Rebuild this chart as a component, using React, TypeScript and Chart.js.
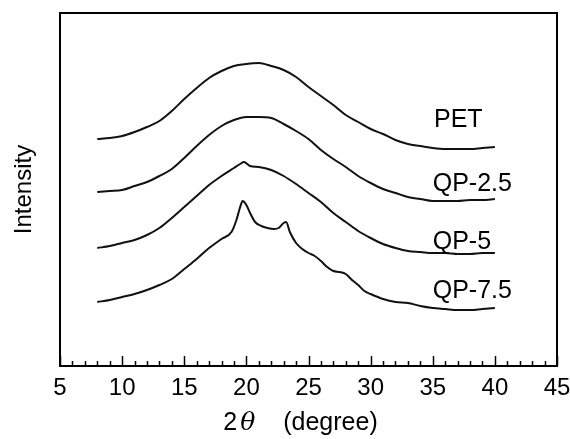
import { useEffect, useRef } from 'react';
import { Chart, registerables } from 'chart.js';

Chart.register(...registerables);

// 2θ grid (degree) shared by the two smooth amorphous patterns
const twoTheta = [8, 9, 10, 11, 12, 13, 14, 15, 16, 17, 18, 19, 20, 21, 22, 23, 24, 25, 26, 27, 28, 29, 30, 31, 32, 33, 34, 35, 36, 37, 38, 39, 40];

// Intensity (a.u., patterns stacked with vertical offsets)
const petIntensity = [227, 228, 230, 234, 239, 245, 255, 267, 278, 288, 295, 300, 302, 303, 300, 296, 289, 279, 270, 261, 251, 244, 237, 232, 226, 222, 220, 218, 217, 217, 217, 218, 219];
const qp25Intensity = [174, 175, 176, 180, 184, 190, 197, 208, 220, 231, 240, 246, 249, 249, 248, 242, 235, 227, 216, 207, 199, 190, 183, 177, 173, 169, 167, 165, 165, 165, 166, 166, 167];

const qp5Theta = [8, 9, 10, 11, 12, 13, 14, 15, 16, 17, 18, 19, 19.5, 19.8, 20.3, 21, 22, 23, 24, 25, 26, 27, 28, 29, 30, 31, 32, 33, 34, 35, 36, 37, 38, 39, 40];
const qp5Intensity = [118, 120, 123, 126, 131, 138, 148, 159, 170, 181, 190, 198, 202, 204, 200, 199, 196, 190, 182, 173, 164, 153, 144, 135, 128, 122, 118, 115, 114, 113, 113, 112, 112, 113, 113];

const qp75Theta = [8, 9, 10, 11, 12, 13, 14, 15, 16, 17, 18, 18.8, 19.2, 19.5, 19.7, 20.0, 20.3, 20.7, 21.2, 21.7, 22.2, 22.6, 23.0, 23.2, 23.5, 24.0, 24.5, 25.0, 25.5, 26.0, 26.5, 27.0, 27.5, 28.0, 28.5, 29.0, 29.5, 30, 31, 32, 33, 34, 35, 36, 37, 38, 39, 40];
const qp75Intensity = [64, 66, 69, 72, 76, 81, 87, 97, 107, 118, 127, 134, 146, 159, 165, 161, 153, 144, 140, 138, 137, 138, 143, 144, 134, 123, 117, 113, 110, 105, 99, 95, 94, 92, 86, 81, 75, 72, 67, 64, 63, 60, 58, 57, 56, 56, 57, 58];

const seriesNames = ['PET', 'QP-2.5', 'QP-5', 'QP-7.5'];
// where each sample name sits, in axis units (2θ, intensity)
const nameAnchors = [
  [35.1, 246],
  [35.0, 182],
  [35.0, 124],
  [35.0, 75],
];

const xTickLabels = ['5', '10', '15', '20', '25', '30', '35', '40', '45'];

const FONT = "'Liberation Sans', Arial, Helvetica, sans-serif";

function pairs(xs: number[], ys: number[]) {
  return xs.map((x, i) => ({ x, y: ys[i] }));
}

const frameAndTicks = {
  id: 'frameAndTicks',
  afterDraw(chart: any) {
    const { ctx, chartArea, scales } = chart;
    const { left, right, top, bottom } = chartArea;
    const xs = scales.x;
    ctx.save();
    ctx.strokeStyle = '#000';
    // inward tick marks along the bottom edge
    ctx.lineWidth = 1.5;
    for (let v = 5; v <= 45; v++) {
      const px = Math.round(xs.getPixelForValue(v)) + 0.5;
      const len = v % 5 === 0 ? 10 : 5;
      ctx.beginPath();
      ctx.moveTo(px, bottom);
      ctx.lineTo(px, bottom - len);
      ctx.stroke();
    }
    // plot frame
    ctx.lineWidth = 2;
    ctx.strokeRect(left, top, right - left, bottom - top);

    // sample names
    ctx.fillStyle = '#000';
    ctx.font = `25px ${FONT}`;
    ctx.textAlign = 'left';
    ctx.textBaseline = 'middle';
    seriesNames.forEach((name, i) => {
      const [ax, ay] = nameAnchors[i];
      ctx.fillText(name, xs.getPixelForValue(ax), scales.y.getPixelForValue(ay));
    });

    // x-axis title: "2θ   (degree)" with an italic theta
    const parts = [
      { text: '2', font: `25px ${FONT}`, after: 3 },
      { text: 'θ', font: `italic 25px 'DejaVu Serif', 'Liberation Serif', serif`, after: 28 },
      { text: '(degree)', font: `25px ${FONT}`, after: 0 },
    ];
    let total = 0;
    const widths = parts.map((p) => {
      ctx.font = p.font;
      const w = ctx.measureText(p.text).width;
      total += w + p.after;
      return w;
    });
    let tx = (left + right) / 2 - 8 - total / 2;
    const ty = 423;
    ctx.textBaseline = 'middle';
    parts.forEach((p, i) => {
      ctx.font = p.font;
      ctx.fillText(p.text, tx, ty);
      tx += widths[i] + p.after;
    });
    ctx.restore();
  },
};

export default function App() {
  const ref = useRef<HTMLCanvasElement>(null);

  useEffect(() => {
    document.body.style.margin = '0';
    const lineStyle = {
      borderColor: '#111',
      borderWidth: 2,
      pointRadius: 0,
      fill: false,
      cubicInterpolationMode: 'monotone' as const,
    };
    const chart = new Chart(ref.current!, {
      type: 'line',
      data: {
        datasets: [
          { label: seriesNames[0], data: pairs(twoTheta, petIntensity), ...lineStyle },
          { label: seriesNames[1], data: pairs(twoTheta, qp25Intensity), ...lineStyle },
          { label: seriesNames[2], data: pairs(qp5Theta, qp5Intensity), ...lineStyle },
          { label: seriesNames[3], data: pairs(qp75Theta, qp75Intensity), ...lineStyle },
        ],
      },
      options: {
        animation: false,
        responsive: true,
        maintainAspectRatio: false,
        layout: { padding: { top: 13, right: 0, left: 0, bottom: 0 } },
        plugins: { legend: { display: false }, tooltip: { enabled: false } },
        scales: {
          x: {
            type: 'linear',
            min: 5,
            max: 45,
            afterFit: (axis: any) => {
              axis.height = 73;
              axis.paddingLeft = 0;
              axis.paddingRight = 13;
            },
            grid: { display: false, drawTicks: false },
            border: { display: false },
            ticks: {
              stepSize: 5,
              padding: 8,
              color: '#000',
              font: { family: FONT, size: 24 },
              callback: (value: any) => {
                const i = Math.round((Number(value) - 5) / 5);
                return Number(value) % 5 === 0 ? xTickLabels[i] : '';
              },
            },
            title: { display: false },
          },
          y: {
            type: 'linear',
            min: 0,
            max: 353,
            afterFit: (axis: any) => {
              axis.width = 60;
            },
            grid: { display: false, drawTicks: false },
            border: { display: false },
            ticks: { display: false },
            title: {
              display: true,
              text: 'Intensity',
              color: '#000',
              font: { family: FONT, size: 24 },
              padding: { top: 10, bottom: 0 },
            },
          },
        },
      },
      plugins: [frameAndTicks],
    });
    return () => chart.destroy();
  }, []);

  return (
    <div style={{ position: 'relative', width: 570, height: 439 }}>
      <canvas ref={ref} />
    </div>
  );
}
